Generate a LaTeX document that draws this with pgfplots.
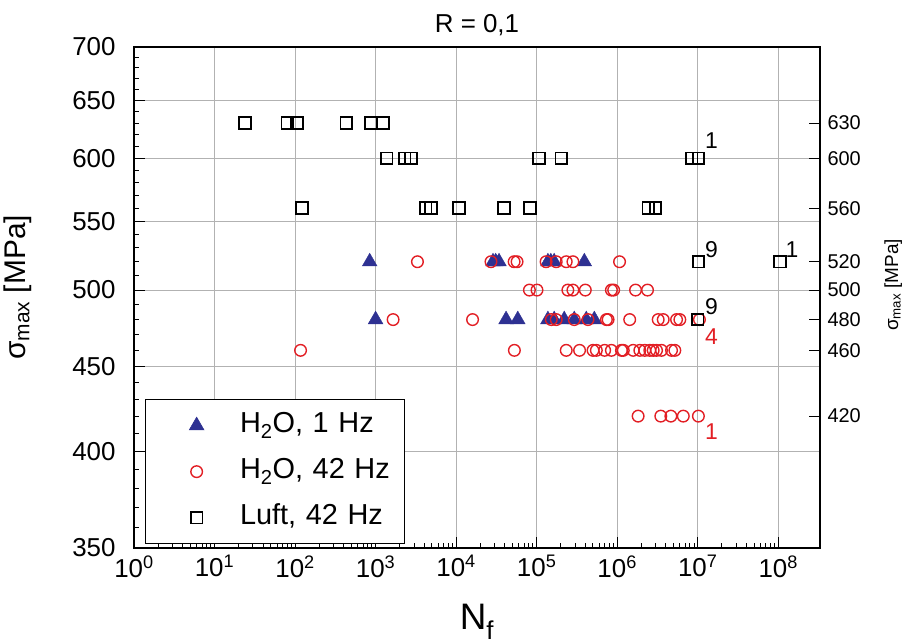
\documentclass[border=0pt]{standalone}
\usepackage{fontspec}
\setmainfont{Liberation Sans}
\usepackage{pgfplots}
\pgfplotsset{compat=1.18}
\definecolor{tblue}{RGB}{46,49,146}
\definecolor{tred}{RGB}{226,30,36}
\begin{document}
\begin{tikzpicture}
\useasboundingbox (-134bp,-96bp) rectangle (771bp,548bp);
\begin{axis}[
  scale only axis, width=686bp, height=501bp,
  xmode=log, ymode=log,
  xmin=1, xmax=3.3e8, ymin=350, ymax=700,
  axis line style={line width=1.6pt},
  xtick={1,10,100,1000,1e4,1e5,1e6,1e7,1e8},
  xticklabels={10\textsuperscript{0},10\textsuperscript{1},10\textsuperscript{2},10\textsuperscript{3},10\textsuperscript{4},10\textsuperscript{5},10\textsuperscript{6},10\textsuperscript{7},10\textsuperscript{8}},
  ytick={350,400,450,500,550,600,650,700},
  yticklabels={350,400,450,500,550,600,650,700},
  minor ytick={360,370,380,390,410,420,430,440,460,470,480,490,510,520,530,540,560,570,580,590,610,620,630,640,660,670,680,690},
  xtick pos=bottom, ytick pos=left,
  tick align=inside,
  major tick length=11bp, minor tick length=5bp,
  tick style={black, line width=1pt},
  xmajorgrids, ymajorgrids,
  major grid style={gray!60, line width=0.8pt},
  yticklabel style={font=\fontsize{26}{30}\selectfont, xshift=-15bp},
  xticklabel style={font=\fontsize{26}{30}\selectfont, yshift=-4bp},
  xlabel={N\textsubscript{f}},
  xlabel style={font=\fontsize{37}{42}\selectfont, at={(axis description cs:0.5,-0.162)}, anchor=base},
  ylabel={σ\textsubscript{max} [MPa]},
  ylabel style={font=\fontsize{30}{34}\selectfont, at={(axis description cs:-0.158,0.52)}, anchor=base},
  title={R = 0,1},
  title style={font=\fontsize{26}{30}\selectfont, at={(axis description cs:0.5,1.017)}, anchor=base},
  legend style={at={(0.016,0.008)}, anchor=south west, draw=black, line width=0.6pt,
    font=\fontsize{29}{33}\selectfont, row sep=14bp, inner xsep=44bp, inner ysep=10bp,
    nodes={text height=21bp, text depth=7bp, inner xsep=0pt},
    /tikz/every odd column/.append style={column sep=36bp},
    /tikz/every even column/.append style={text width=120bp}},
  legend cell align=left,
]
\addplot[only marks, mark=triangle*, mark size=8.5bp, color=tblue] coordinates {
(845,520)(28700,520)(31000,520)(34100,520)(138000,520)(150000,520)(165000,520)(391000,520)
(1000,480)(41700,480)(58300,480)(138000,480)(165000,480)(220000,480)(293000,480)(413000,480)(520000,480)
};
\addlegendentry{\mbox{H\textsubscript{2}O, 1 Hz}}
\addplot[only marks, mark=o, mark size=5.8bp, color=tred, mark options={line width=1.4pt}] coordinates {
(3310,520)(27100,520)(52500,520)(57100,520)(131000,520)(175000,520)(233000,520)(282000,520)(1.07e6,520)
(81300,500)(101000,500)(244000,500)(282000,500)(402000,500)(847000,500)(904000,500)(1.69e6,500)(2.38e6,500)
(1650,480)(16000,480)(152000,480)(175000,480)(293000,480)(434000,480)(735000,480)(771000,480)(1.43e6,480)(3.23e6,480)(3.73e6,480)(5.46e6,480)(6.0e6,480)(1.05e7,480)
(117,460)(52900,460)(233000,460)(341000,460)(501000,460)(551000,460)(699000,460)(847000,460)(1.13e6,460)(1.19e6,460)(1.58e6,460)(1.91e6,460)(2.2e6,460)(2.54e6,460)(2.8e6,460)(3.08e6,460)(3.55e6,460)(4.73e6,460)(5.2e6,460)
(1.82e6,420)(3.48e6,420)(4.64e6,420)(6.62e6,420)(1.02e7,420)
};
\addlegendentry{\mbox{H\textsubscript{2}O, 42 Hz}}
\addplot[only marks, mark=square, mark size=5.8bp, color=black, mark options={line width=1.8pt}] coordinates {
(24,630)(80,630)(106,630)(433,630)(869,630)(1250,630)
(1375,600)(2300,600)(2740,600)(107000,600)(202000,600)(8.4e6,600)(1.02e7,600)
(122,560)(4200,560)(4860,560)(10800,560)(39400,560)(83000,560)(2.43e6,560)(2.99e6,560)
(1.02e7,520)(1.05e8,520)
(1.0e7,480)
};
\addlegendentry{\mbox{Luft, 42 Hz}}
\node[anchor=west, font=\fontsize{23}{26}\selectfont] at (axis cs:1.12e7,615) {1};
\node[anchor=west, font=\fontsize{23}{26}\selectfont] at (axis cs:1.12e7,529) {9};
\node[anchor=west, font=\fontsize{23}{26}\selectfont] at (axis cs:1.12e8,529) {1};
\node[anchor=west, font=\fontsize{23}{26}\selectfont] at (axis cs:1.12e7,489) {9};
\node[anchor=west, font=\fontsize{23}{26}\selectfont, text=tred] at (axis cs:1.12e7,469) {4};
\node[anchor=west, font=\fontsize{23}{26}\selectfont, text=tred] at (axis cs:1.12e7,411) {1};
\end{axis}
\begin{axis}[
  scale only axis, width=686bp, height=501bp,
  xmode=log, ymode=log,
  xmin=1, xmax=3.3e8, ymin=350, ymax=700,
  axis x line=none,
  axis y line*=right,
  axis line style={line width=1.6pt, -},
  ytick={420,460,480,500,520,560,600,630},
  yticklabels={420,460,480,500,520,560,600,630},
  minor ytick={},
  tick align=inside,
  major tick length=11bp,
  tick style={black, line width=1pt},
  yticklabel style={font=\fontsize{20}{23}\selectfont, xshift=4bp},
  ylabel={σ\textsubscript{max} [MPa]},
  ylabel style={font=\fontsize{19}{22}\selectfont, at={(axis description cs:1.1137,0.525)}, anchor=base},
]
\addplot[draw=none, forget plot] coordinates {(10,500)};
\end{axis}
\end{tikzpicture}
\end{document}
